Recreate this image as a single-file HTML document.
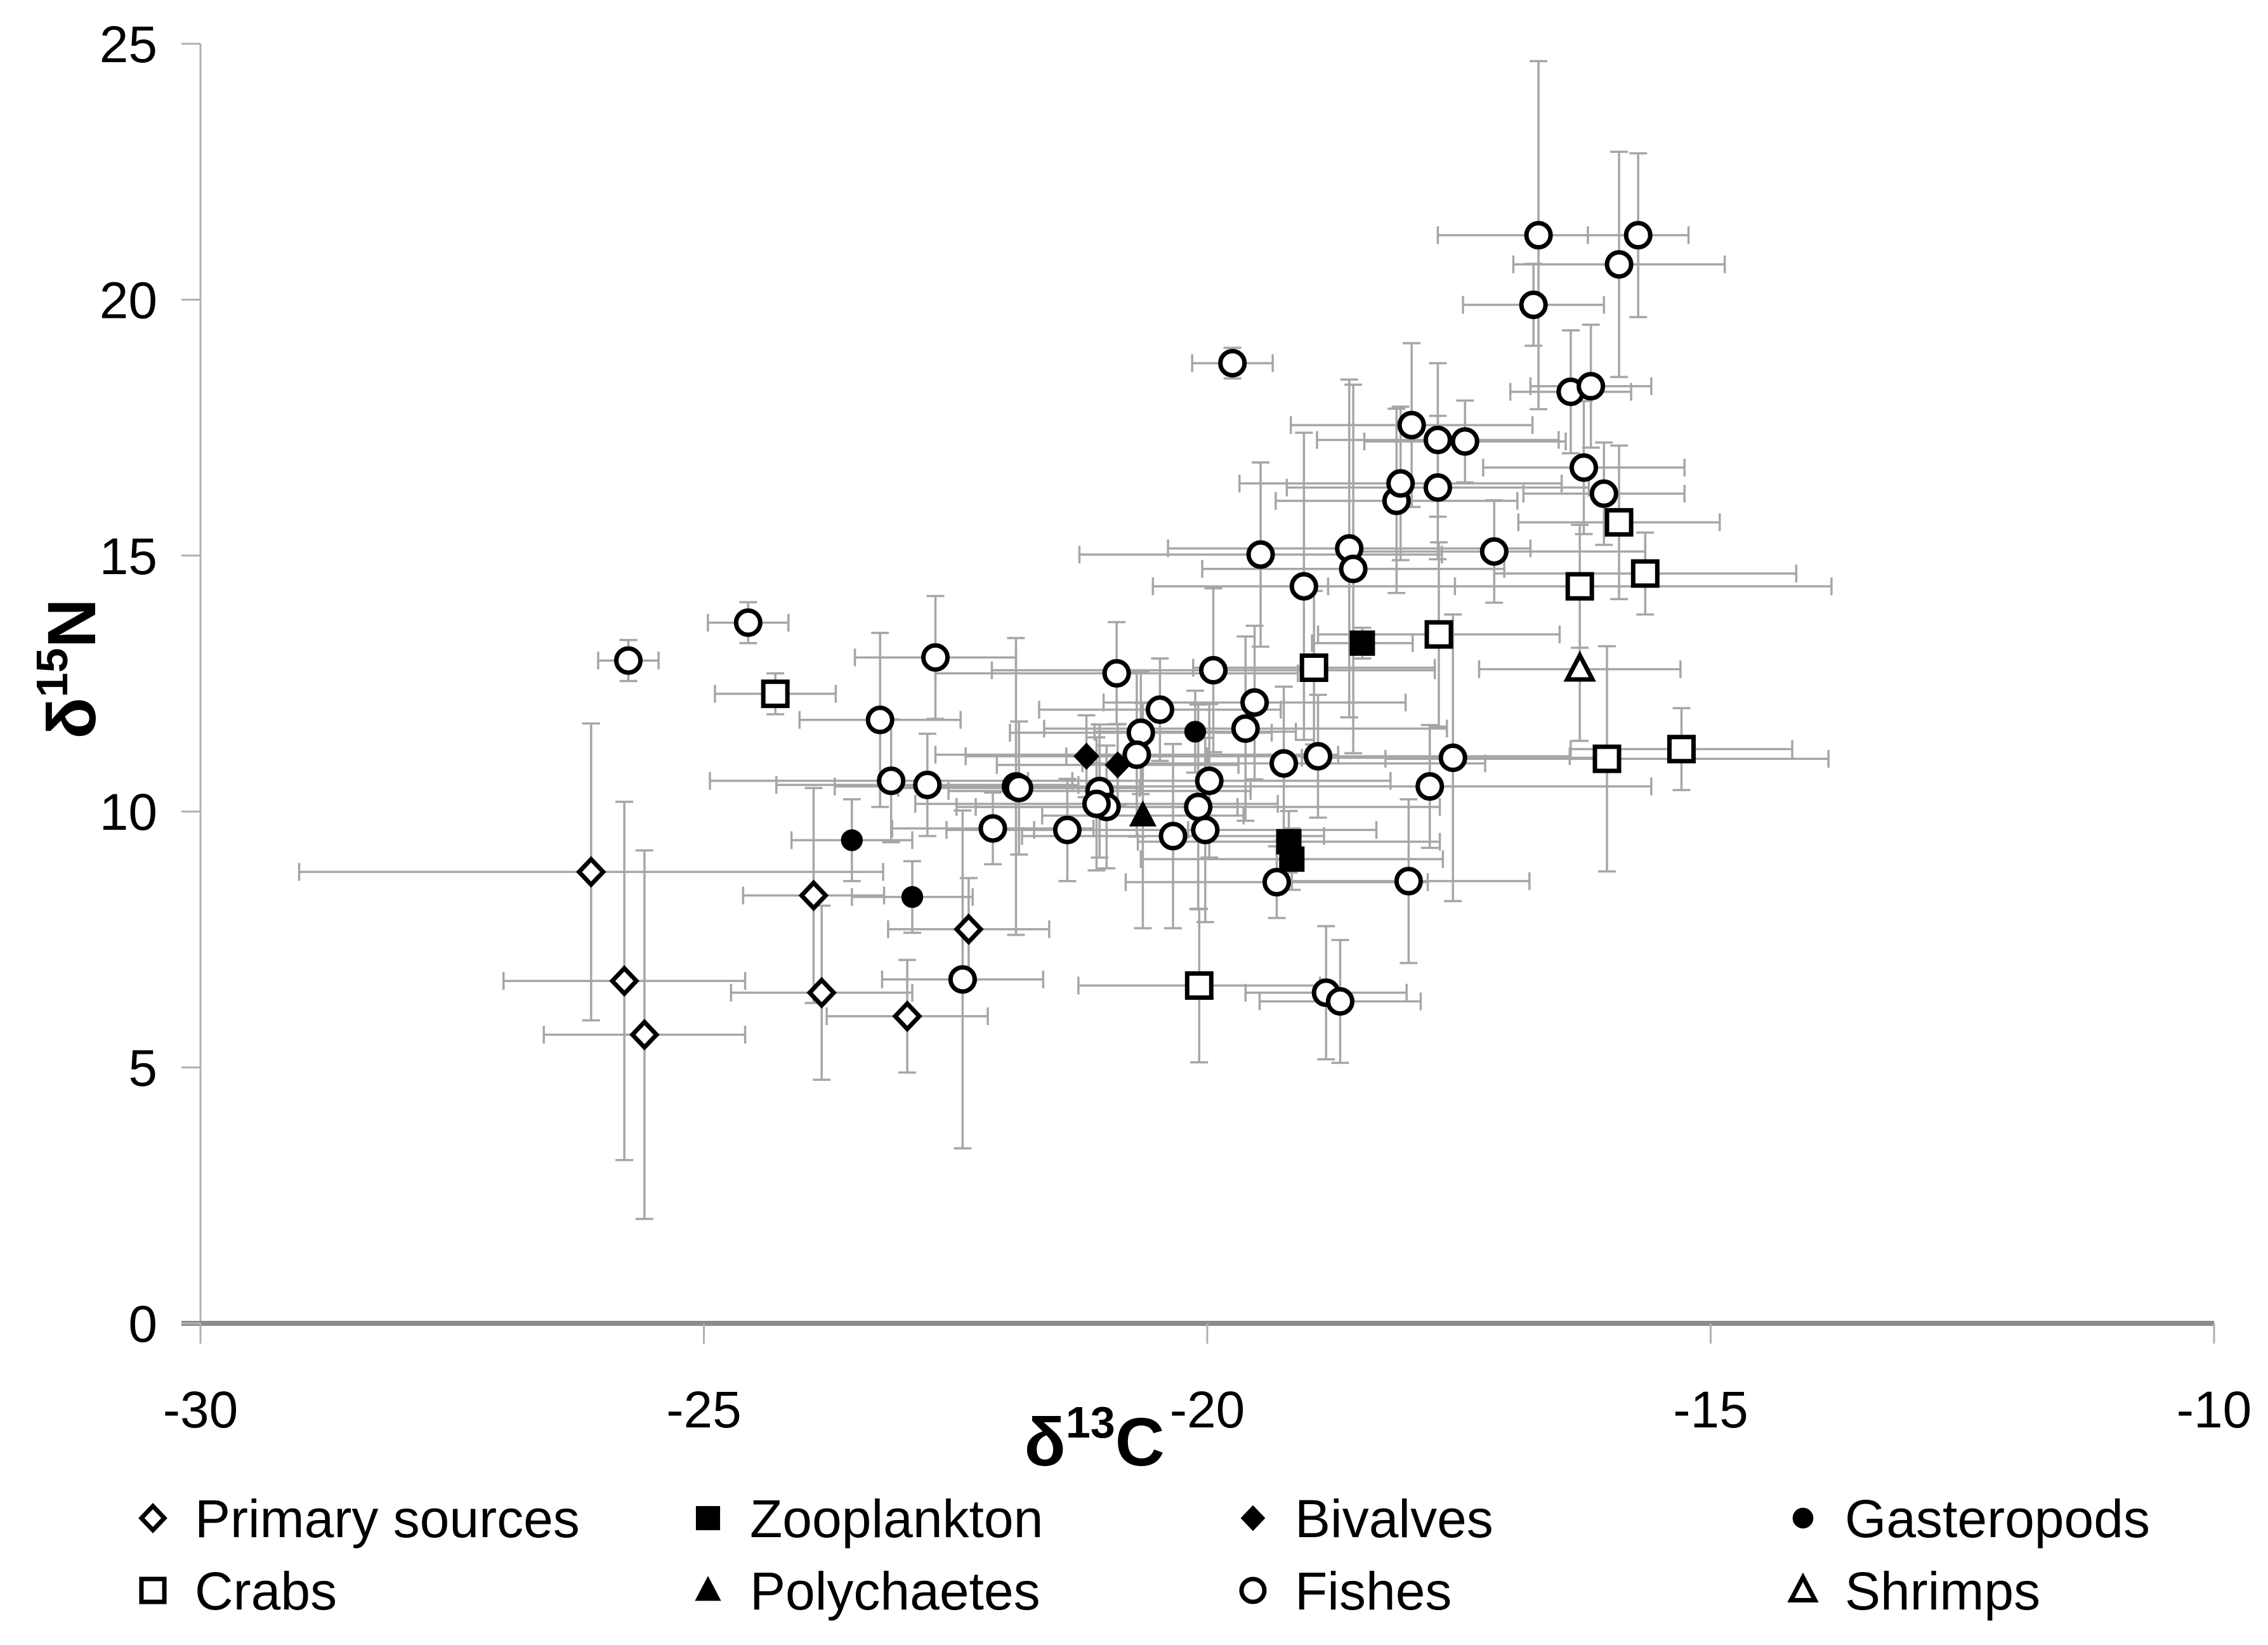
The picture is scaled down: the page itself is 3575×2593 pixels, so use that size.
<!DOCTYPE html>
<html><head><meta charset="utf-8">
<style>
html,body{margin:0;padding:0;background:#fff;}
svg{display:block;font-family:"Liberation Sans",sans-serif;}
</style></head>
<body>
<svg id="chart" width="3575" height="2593" viewBox="0 0 3575 2593" xmlns="http://www.w3.org/2000/svg">
<g id="bars"></g>
<g id="axes"></g>
<g id="marks"></g>
<text x="1725" y="2310" font-size="108" font-weight="bold" text-anchor="middle">δ<tspan font-size="70" dy="-44">13</tspan><tspan dy="44">C</tspan></text>
<text transform="translate(150,1054) rotate(-90)" font-size="108" font-weight="bold" text-anchor="middle">δ<tspan font-size="70" dy="-44">15</tspan><tspan dy="44">N</tspan></text>
<g id="legend"></g>
</svg>
<script>
const xTicks=[-30,-25,-20,-15,-10];
const yTicks=[0,5,10,15,20,25];
const primaryX=[-26.12,-25.79,-25.59,-23.91,-23.83,-22.98,-22.37];
const primaryY=[8.82,6.69,5.64,8.36,6.46,6.0,7.7];
const primaryXe=[2.9,1.2,1.0,0.7,0.9,0.8,0.8];
const primaryYe=[2.9,3.5,3.6,2.1,1.7,1.1,1.0];
const zooX=[-18.46,-19.19,-19.16];
const zooY=[13.29,9.41,9.07];
const zooXe=[0.5,1.5,1.5];
const zooYe=[0.3,0.6,0.6];
const bivX=[-21.2,-20.89];
const bivY=[11.08,10.91];
const bivXe=[1.2,1.2];
const bivYe=[0.8,0.8];
const gasX=[-23.53,-22.93,-20.12];
const gasY=[9.44,8.33,11.56];
const gasXe=[0.6,0.6,1.0];
const gasYe=[0.8,0.7,0.8];
const polyX=[-20.64];
const polyY=[9.92];
const polyXe=[1.0];
const polyYe=[2.2];
const shrX=[-16.3];
const shrY=[12.78];
const shrXe=[1.0];
const shrYe=[1.4];
const crabX=[-24.29,-18.94,-17.7,-15.91,-16.3,-15.65,-16.03,-15.29,-20.08];
const crabY=[12.3,12.81,13.46,15.65,14.4,14.65,11.03,11.22,6.6];
const crabXe=[0.6,1.2,1.2,1.0,2.5,1.5,2.2,1.1,1.2];
const crabYe=[0.4,1.5,1.8,1.5,1.2,0.8,2.2,0.8,1.5];
const fishX=[-25.75,-24.56,-23.25,-22.7,-23.14,-22.78,-22.13,-21.9,-21.87,-22.43,-21.39,-21.07,-21.0,-21.1,-20.9,-20.66,-20.47,-20.7,-20.34,-20.09,-20.02,-19.98,-19.94,-19.75,-19.62,-19.53,-19.47,-19.31,-19.24,-19.04,-18.9,-18.82,-18.68,-18.59,-18.55,-18.12,-18.08,-18.0,-17.97,-17.79,-17.71,-17.71,-17.56,-17.44,-17.15,-16.76,-16.71,-16.39,-16.19,-16.26,-16.06,-15.91,-15.72];
const fishY=[12.95,13.69,11.79,13.01,10.6,10.52,9.67,10.49,10.46,6.72,9.64,10.4,10.09,10.15,12.7,11.54,11.99,11.11,9.52,10.09,9.64,10.6,12.76,18.76,11.62,12.13,15.02,8.62,10.94,14.4,11.08,6.46,6.29,15.14,14.74,16.07,16.41,8.64,17.55,10.49,17.26,16.33,11.05,17.23,15.08,19.9,21.26,18.2,18.31,16.72,16.21,20.69,21.26];
const fishXe=[0.3,0.4,0.8,0.8,1.8,1.5,1.0,1.8,1.2,0.8,1.2,1.5,1.3,1.8,1.8,1.3,1.2,2.0,1.5,2.4,1.7,1.8,2.2,0.4,2.0,1.5,1.8,1.5,2.0,1.5,2.5,0.8,0.8,1.8,1.5,1.2,1.6,1.2,1.2,2.2,1.2,1.5,1.5,1.0,1.5,0.7,1.0,0.6,0.6,1.0,0.8,1.05,0.5];
const fishYe=[0.4,0.4,1.7,1.2,1.2,1.0,0.7,2.9,1.3,3.3,1.0,1.3,1.2,1.3,1.0,1.2,1.0,1.6,1.8,2.0,1.8,1.5,1.6,0.3,1.8,1.5,1.8,0.7,1.5,3.0,1.2,1.3,1.2,3.3,3.6,1.8,1.5,1.6,1.6,1.2,1.5,1.4,2.8,0.8,1.0,0.8,3.4,1.2,1.2,1.3,1.0,2.2,1.6];

const NS='http://www.w3.org/2000/svg';
const X0=316,X1=3490,Y0=2086,Y1=69;
function sx(v){return X0+(v+30)/20*(X1-X0);}
function sy(v){return Y0-v/25*(Y0-Y1);}
function mk(tag,attrs,parent){const e=document.createElementNS(NS,tag);for(const k in attrs)e.setAttribute(k,attrs[k]);parent.appendChild(e);return e;}
const bars=document.getElementById('bars'),axes=document.getElementById('axes'),marks=document.getElementById('marks'),legend=document.getElementById('legend');

let yl=mk('line',{x1:X0,y1:Y1,x2:X0,y2:Y0,stroke:'#b0b0b0','stroke-width':3},axes);


let xl=mk('line',{x1:X0-30,y1:Y0,x2:X1,y2:Y0,stroke:'#8c8c8c','stroke-width':8},axes);


xTicks.forEach(t=>{
  let l=mk('line',{x1:sx(t),y1:Y0,x2:sx(t),y2:Y0+32,stroke:'#b0b0b0','stroke-width':3},axes);
  
  
  let tx=mk('text',{x:sx(t),y:2250,'font-size':82,'text-anchor':'middle'},axes);tx.textContent=t;
  
  
});
yTicks.forEach(t=>{
  let l=mk('line',{x1:X0-30,y1:sy(t),x2:X0,y2:sy(t),stroke:'#b0b0b0','stroke-width':3},axes);
  
  
  let tx=mk('text',{x:248,y:sy(t)+29,'font-size':82,'text-anchor':'end'},axes);tx.textContent=t;
  
  
});

function marker(kind,cx,cy,parent,s){
  s=s||1;let e;
  const r=19*s;
  if(kind==='diamond'||kind==='fdiamond'){e=mk('polygon',{points:`${cx},${cy-r*1.05} ${cx+r},${cy} ${cx},${cy+r*1.05} ${cx-r},${cy}`},parent);}
  else if(kind==='square'||kind==='fsquare'){e=mk('rect',{x:cx-r,y:cy-r,width:2*r,height:2*r},parent);}
  else if(kind==='circle'||kind==='fcircle'){e=mk('circle',{cx:cx,cy:cy,r:kind==='fcircle'?r*0.85:r},parent);}
  else {e=mk('polygon',{points:`${cx},${cy-r*1.15} ${cx+r*1.05},${cy+r*0.85} ${cx-r*1.05},${cy+r*0.85}`},parent);}
  const filled=kind[0]==='f';
  e.setAttribute('fill',filled?'#000':'#fff');
  e.setAttribute('stroke','#000');
  e.setAttribute('stroke-width',filled?2:7);
  return e;
}
const series=[
 ['primary-sources','diamond',primaryX,primaryY,primaryXe,primaryYe],
 ['zooplankton','fsquare',zooX,zooY,zooXe,zooYe],
 ['bivalves','fdiamond',bivX,bivY,bivXe,bivYe],
 ['gasteropods','fcircle',gasX,gasY,gasXe,gasYe],
 ['crabs','square',crabX,crabY,crabXe,crabYe],
 ['polychaetes','ftriangle',polyX,polyY,polyXe,polyYe],
 ['fishes','circle',fishX,fishY,fishXe,fishYe],
 ['shrimps','triangle',shrX,shrY,shrXe,shrYe]
];
const C=14;
series.forEach(([name,kind,xs,ys,xe,ye])=>{
  xs.forEach((xv,i)=>{
    const cx=sx(xv),cy=sy(ys[i]);
    const g=mk('g',{stroke:'#a6a6a6','stroke-width':3.5},bars);
    
    
    const xa=sx(xv-xe[i]),xb=sx(xv+xe[i]),ya=sy(ys[i]+ye[i]),yb=sy(ys[i]-ye[i]);
    mk('line',{x1:xa,y1:cy,x2:xb,y2:cy},g);
    mk('line',{x1:xa,y1:cy-C,x2:xa,y2:cy+C},g);
    mk('line',{x1:xb,y1:cy-C,x2:xb,y2:cy+C},g);
    mk('line',{x1:cx,y1:ya,x2:cx,y2:yb},g);
    mk('line',{x1:cx-C,y1:ya,x2:cx+C,y2:ya},g);
    mk('line',{x1:cx-C,y1:yb,x2:cx+C,y2:yb},g);
  });
});
series.forEach(([name,kind,xs,ys])=>{
  xs.forEach((xv,i)=>{
    const m=marker(kind,sx(xv),sy(ys[i]),marks);
    
    
  });
});
const labels=['Primary sources','Zooplankton','Bivalves','Gasteropods','Crabs','Polychaetes','Fishes','Shrimps'];
const colX=[241,1116,1975,2842],rowY=[2393,2507];
series.forEach((s,i)=>{
  const cx=colX[i%4],cy=rowY[Math.floor(i/4)];
  const g=mk('g',{},legend);
  
  
  marker(s[1],cx,cy,g,0.95);
  const t=mk('text',{x:cx+66,y:cy+30,'font-size':84},g);
  t.textContent=labels[i];
});
</script>
</body></html>
